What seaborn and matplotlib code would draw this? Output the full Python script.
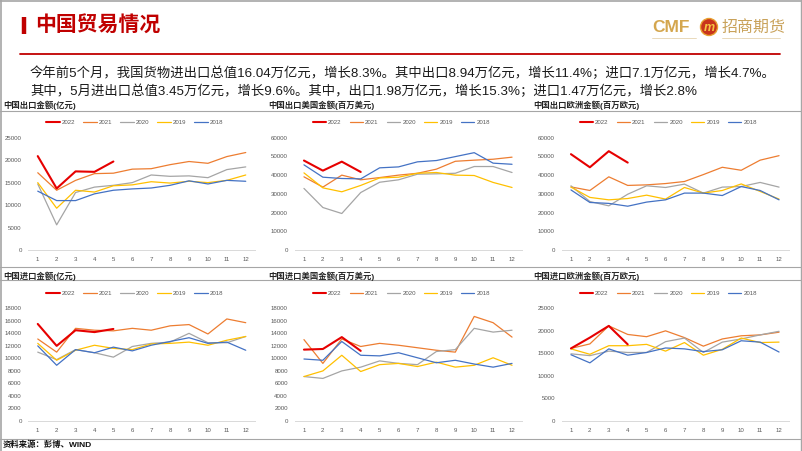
import matplotlib
matplotlib.use("Agg")
import matplotlib.pyplot as plt
import seaborn as sns
import pandas as pd
from matplotlib.lines import Line2D
from matplotlib.patches import Ellipse

# ---------------- data ----------------
months = list(range(1, 13))
years = ["2022", "2021", "2020", "2019", "2018"]

# 中国出口金额(亿元)
exp_total_2022 = [20900, 13700, 17500, 17400, 19700]
exp_total_2021 = [17200, 13300, 15500, 17000, 17100, 18000, 18100, 19000, 19700, 19300, 20800, 21700]
exp_total_2020 = [14700, 5600, 12800, 14000, 14400, 15000, 16700, 16400, 16500, 16100, 17900, 18500]
exp_total_2019 = [15000, 9300, 13300, 12900, 14300, 14500, 15200, 14900, 15300, 15000, 15500, 16700]
exp_total_2018 = [13100, 11000, 11000, 12500, 13300, 13600, 13800, 14400, 15400, 14700, 15500, 15300]

# 中国出口美国金额(百万美元)
exp_us_2022 = [47800, 42400, 47200, 41700]
exp_us_2021 = [39100, 33600, 40000, 37500, 38700, 40000, 41000, 43200, 47400, 48000, 48500, 49600]
exp_us_2020 = [32900, 22700, 19500, 30700, 36200, 37500, 40500, 40700, 41000, 44600, 44600, 41400]
exp_us_2019 = [41200, 33200, 31100, 34500, 38500, 38900, 41000, 41400, 40000, 39800, 36100, 33400]
exp_us_2018 = [45500, 38900, 38200, 38000, 43900, 44400, 47100, 47800, 49900, 52000, 46400, 45800]

# 中国出口欧洲金额(百万欧元)
exp_eu_2022 = [51200, 44200, 52800, 46700]
exp_eu_2021 = [33700, 31800, 39100, 34500, 34800, 35500, 36600, 40300, 44200, 42600, 48000, 50400]
exp_eu_2020 = [34300, 25900, 23600, 29800, 34300, 33400, 35200, 30400, 33600, 33900, 36100, 33600]
exp_eu_2019 = [33600, 28100, 26800, 27500, 29300, 27200, 33400, 30400, 31800, 35300, 31300, 27200]
exp_eu_2018 = [32100, 25400, 24900, 23400, 25600, 26800, 30400, 30400, 29100, 33900, 31800, 26800]

# 中国进口金额(亿元)
imp_total_2022 = [15500, 12000, 14500, 14200, 14700]
imp_total_2021 = [13100, 11000, 14800, 14500, 14400, 14800, 14500, 15200, 15400, 13900, 16300, 15700]
imp_total_2020 = [11000, 9800, 11400, 10900, 10200, 11900, 12400, 12600, 14000, 12500, 12500, 13500]
imp_total_2019 = [12400, 9700, 11300, 12100, 11600, 11400, 12300, 12400, 12600, 12100, 12900, 13500]
imp_total_2018 = [12000, 8900, 11400, 10900, 11800, 11200, 12100, 12700, 13300, 12400, 12600, 11300]

# 中国进口美国金额(百万美元)
imp_us_2022 = [11400, 11500, 13400, 11200]
imp_us_2021 = [13000, 9200, 13100, 11900, 12400, 12100, 11700, 11300, 11000, 16700, 15700, 13400]
imp_us_2020 = [7100, 6800, 8000, 8600, 9600, 9200, 9000, 11100, 11400, 14800, 14200, 14500]
imp_us_2019 = [7100, 8000, 10500, 7900, 9000, 9200, 8700, 9400, 8600, 8900, 10100, 8900]
imp_us_2018 = [9900, 9700, 12700, 10500, 10400, 10900, 10100, 9300, 9700, 9100, 8600, 9200]

# 中国进口欧洲金额(百万欧元)
imp_eu_2022 = [16100, 18500, 21100, 17000]
imp_eu_2021 = [16100, 17100, 21100, 19200, 18700, 20000, 18500, 16600, 18200, 18900, 19100, 19700]
imp_eu_2020 = [14900, 14500, 15500, 15200, 15200, 17600, 18400, 15200, 17500, 18200, 19100, 19900]
imp_eu_2019 = [16000, 14800, 16700, 16700, 17000, 15500, 17400, 14600, 15900, 18400, 17400, 17500]
imp_eu_2018 = [14700, 12900, 16000, 14600, 15200, 16200, 16000, 15400, 15800, 17800, 17500, 15300]

panel_titles = ["中国出口金额(亿元)", "中国出口美国金额(百万美元)", "中国出口欧洲金额(百万欧元)",
                "中国进口金额(亿元)", "中国进口美国金额(百万美元)", "中国进口欧洲金额(百万欧元)"]
panel_series = [
    [exp_total_2022, exp_total_2021, exp_total_2020, exp_total_2019, exp_total_2018],
    [exp_us_2022, exp_us_2021, exp_us_2020, exp_us_2019, exp_us_2018],
    [exp_eu_2022, exp_eu_2021, exp_eu_2020, exp_eu_2019, exp_eu_2018],
    [imp_total_2022, imp_total_2021, imp_total_2020, imp_total_2019, imp_total_2018],
    [imp_us_2022, imp_us_2021, imp_us_2020, imp_us_2019, imp_us_2018],
    [imp_eu_2022, imp_eu_2021, imp_eu_2020, imp_eu_2019, imp_eu_2018],
]
panel_ymax = [25000, 60000, 60000, 18000, 18000, 25000]
panel_ystep = [5000, 10000, 10000, 2000, 2000, 5000]

header_title = "中国贸易情况"
summary_line1 = "今年前5个月，我国货物进出口总值16.04万亿元，增长8.3%。其中出口8.94万亿元，增长11.4%；进口7.1万亿元，增长4.7%。"
summary_line2 = "其中，5月进出口总值3.45万亿元，增长9.6%。其中，出口1.98万亿元，增长15.3%；进口1.47万亿元，增长2.8%"
source_text = "资料来源：彭博、WIND"

# ---------------- style ----------------
sns.set_theme(style="white")
plt.rcParams["font.family"] = ["Liberation Sans", "Noto Sans CJK SC", "DejaVu Sans"]

colors = {"2022": "#E60000", "2021": "#ED7D31", "2020": "#A5A5A5", "2019": "#FFC000", "2018": "#4472C4"}
widths = {"2022": 1.5, "2021": 0.9, "2020": 0.9, "2019": 0.9, "2018": 0.9}

W, H = 802, 451
fig = plt.figure(figsize=(W / 100, H / 100), dpi=100)
fig.patch.set_facecolor("white")


def box(l, t, r, b):
    return [l / W, 1 - b / H, (r - l) / W, (b - t) / H]


def hline(y, x0=0, x1=W, color="#A6A6A6", lw=0.8):
    fig.add_artist(Line2D([x0 / W, x1 / W], [1 - y / H, 1 - y / H], transform=fig.transFigure,
                          color=color, lw=lw))


def vline(x, y0=0, y1=H, color="#A6A6A6", lw=0.8):
    fig.add_artist(Line2D([x / W, x / W], [1 - y0 / H, 1 - y1 / H], transform=fig.transFigure,
                          color=color, lw=lw))


# ---------------- header ----------------
fig.add_artist(Line2D([24 / W, 24 / W], [1 - 17 / H, 1 - 34 / H], transform=fig.transFigure,
                      color="#C00000", lw=3.2, solid_capstyle="butt"))
fig.text(35 / W, 1 - 26 / H, header_title, fontsize=15, fontweight="bold", color="#C00000",
         va="center", ha="left")
hline(54, 20, 780, color="#C00000", lw=1.3)

# logo
fig.text(652 / W, 1 - 27 / H, "CMF", fontsize=12.5, fontweight="bold", color="#D4A64E",
         va="center", ha="left")
circ = Ellipse((709 / W, 1 - 27 / H), width=17 / W, height=17 / H, transform=fig.transFigure,
               facecolor="#C8341C", edgecolor="#E8A030", lw=1.0)
fig.add_artist(circ)
fig.text(709 / W, 1 - 28 / H, "m", fontsize=9, fontweight="bold", color="#F5C542",
         va="center", ha="center", style="italic")
fig.text(722 / W, 1 - 27 / H, "招商期货", fontsize=11.5, color="#C9A25A", va="center", ha="left")
hline(38, 652, 696, color="#E5D3B0", lw=0.6)
hline(38, 722, 780, color="#E5D3B0", lw=0.6)

fig.text(30 / W, 1 - 73 / H, summary_line1, fontsize=9.6, color="#1A1A1A", va="center", ha="left")
fig.text(30 / W, 1 - 91 / H, summary_line2, fontsize=9.6, color="#1A1A1A", va="center", ha="left")

# frame lines
hline(0.8, 0, W, lw=1.2)
vline(1, 0, H, lw=1.2)
vline(800.5, 0, H, lw=1.0)
hline(111)
hline(267)
hline(280)
hline(439)

fig.text(3 / W, 1 - 445 / H, source_text, fontsize=6, fontweight="bold", color="#111111",
         va="center", ha="left")

# ---------------- panels ----------------
col_x = [(28.3, 255.2), (294.5, 521.5), (561.5, 788.5)]
title_x = [3, 268, 533]
row_y = [(137.7, 250), (308.3, 421)]
title_y = [105, 276]

for i in range(6):
    r, c = divmod(i, 3)
    l, rr = col_x[c]
    t, b = row_y[r]
    ax = fig.add_axes(box(l, t, rr, b))
    ax.set_facecolor("none")
    for yr, vals in zip(years, panel_series[i]):
        df = pd.DataFrame({"month": months[:len(vals)], "value": vals})
        sns.lineplot(data=df, x="month", y="value", ax=ax, color=colors[yr], lw=widths[yr],
                     label=yr, zorder=5 if yr == "2022" else 3)
    ax.set_xlim(0.5, 12.5)
    ax.set_ylim(0, panel_ymax[i])
    ax.set_xticks(months)
    ax.set_xticklabels([str(m) for m in months])
    ax.set_yticks(list(range(0, panel_ymax[i] + 1, panel_ystep[i])))
    ax.set_xlabel("")
    ax.set_ylabel("")
    ax.tick_params(axis="both", length=0, labelsize=4.4, labelcolor="#595959")
    ax.tick_params(axis="y", pad=4.8)
    ax.tick_params(axis="x", pad=5.0)
    for s in ["top", "right", "left"]:
        ax.spines[s].set_visible(False)
    ax.spines["bottom"].set_color("#D9D9D9")
    ax.spines["bottom"].set_linewidth(0.7)
    ax.grid(False)
    leg_offset = 15 / (b - t)
    ax.legend(loc="center", bbox_to_anchor=(0.47, 1 + leg_offset), ncol=5, frameon=False,
              fontsize=4.4, handlelength=2.2, handletextpad=0.35, columnspacing=1.3,
              labelcolor="#595959")
    fig.text(title_x[c] / W, 1 - title_y[r] / H, panel_titles[i], fontsize=6, fontweight="bold",
             color="#262626", va="center", ha="left")

fig.savefig("out.png", dpi=100, facecolor="white")
